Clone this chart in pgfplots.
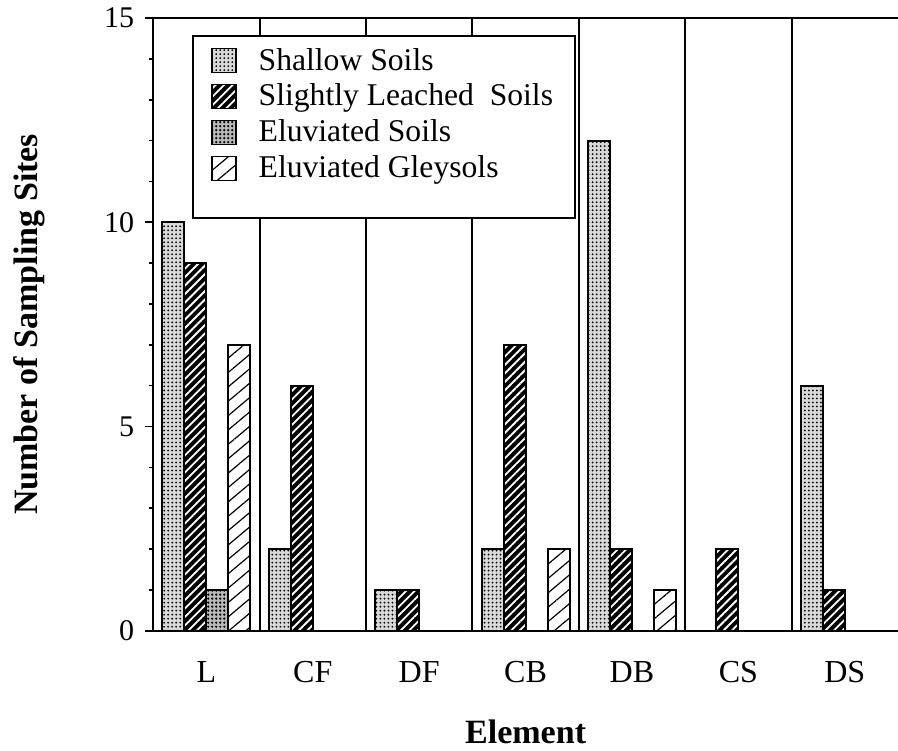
\documentclass[border=0pt]{standalone}
\usepackage{fontspec}
\setmainfont{Liberation Serif}
\usepackage{pgfplots}
\pgfplotsset{compat=1.18}
\usetikzlibrary{patterns.meta}
\begin{document}
\begin{tikzpicture}
\begin{axis}[
  scale only axis,
  width=372pt, height=306pt,
  xmin=-0.5, xmax=6.5, ymin=0, ymax=15,
  axis x line*=box, axis y line*=left,
  axis line style={line width=1pt},
  ybar=0pt, bar width=11pt,
  xtick={0,1,2,3,4,5,6},
  xticklabels={L,CF,DF,CB,DB,CS,DS},
  x tick style={draw=none},
  xticklabel style={font=\fontsize{16}{18}\selectfont, anchor=base, yshift=-22pt},
  extra x ticks={-0.5,0.5,1.5,2.5,3.5,4.5,5.5},
  extra x tick labels={},
  extra x tick style={tick align=outside, major tick length=4pt,
     tick style={draw=black,line width=1pt}, grid=major,
     major grid style={black,line width=1pt}},
  ytick={0,5,10,15},
  minor y tick num=4,
  y tick style={line width=0.8pt,black},
  tick align=outside,
  major tick length=4pt, minor tick length=2pt,
  yticklabel style={font=\fontsize{15}{17}\selectfont, xshift=-2pt},
  /pgf/number format/assume math mode=true,
  xlabel={\fontsize{17}{20}\selectfont\bfseries Element},
  ylabel={\fontsize{17}{20}\selectfont\bfseries Number of Sampling Sites},
  x label style={at={(axis description cs:0.5,-0.1846)}, anchor=base},
  y label style={at={(axis description cs:-0.166,0.5)}, anchor=center},
  legend cell align=left,
  legend style={at={(rel axis cs:0,1)}, anchor=north west, xshift=19.5pt, yshift=-8.5pt,
     draw=black, line width=1pt, fill=white,
     font=\fontsize{15.8}{18}\selectfont, row sep=1.5pt,
     inner xsep=9pt, inner ysep=4pt,
     /tikz/every even column/.append style={column sep=0pt}},
  legend image code/.code={\draw[#1, line width=0.7pt] (0pt,-6pt) rectangle (12pt,6pt);},
]
\addplot[draw=black, line width=1pt, fill=gray!30,
  postaction={pattern={Dots[distance=2pt,radius=0.5pt]}, pattern color=black}]
  coordinates {(0,10) (1,2) (2,1) (3,2) (4,12) (5,0) (6,6)};
\addplot[draw=black, line width=1pt, fill=black,
  postaction={pattern={Lines[angle=45,distance=3pt,line width=0.9pt]}, pattern color=white}]
  coordinates {(0,9) (1,6) (2,1) (3,7) (4,2) (5,2) (6,1)};
\addplot[draw=black, line width=1pt, fill=gray!55,
  postaction={pattern={Dots[distance=2pt,radius=0.6pt]}, pattern color=black}]
  coordinates {(0,1) (1,0) (2,0) (3,0) (4,0) (5,0) (6,0)};
\addplot[draw=black, line width=1pt, fill=white,
  postaction={pattern={Lines[angle=40,distance=5.5pt,line width=0.6pt]}, pattern color=black}]
  coordinates {(0,7) (1,0) (2,0) (3,2) (4,1) (5,0) (6,0)};
\addlegendimage{empty legend}
\legend{\hspace{9pt}Shallow Soils, \hspace{9pt}Slightly Leached\ \ Soils, \hspace{9pt}Eluviated Soils, \hspace{9pt}Eluviated Gleysols, \rule{0pt}{5.5pt}}
\coordinate (sw) at (rel axis cs:0,0);
\coordinate (ne) at (rel axis cs:1,1);
\end{axis}
\pgfresetboundingbox
\path[use as bounding box] ([xshift=-76.5pt,yshift=-60pt]sw) rectangle ([yshift=9pt]ne);
\end{tikzpicture}
\end{document}
